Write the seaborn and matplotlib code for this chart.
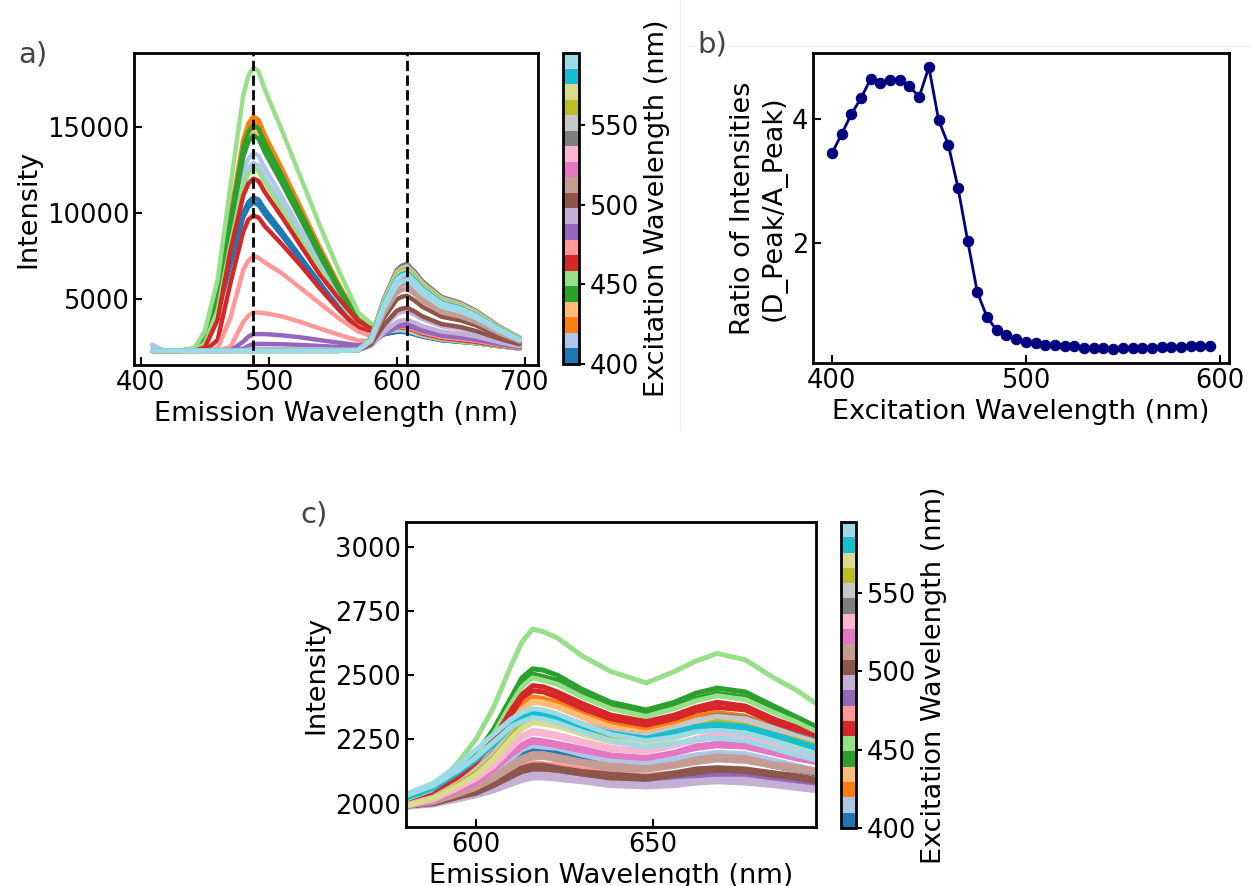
import matplotlib
matplotlib.use('Agg')
import numpy as np
import pandas as pd
import matplotlib.pyplot as plt
from matplotlib.colors import Normalize
from matplotlib.cm import ScalarMappable
from matplotlib.lines import Line2D
import seaborn as sns

#------------------------------------DATA-------------------------------------#
excitation = list(range(400, 600, 5))   # nm, one spectrum per value

# panel a : emission spectra (full range)
em_a = [409, 418, 430, 442, 450, 460, 470, 480, 484, 488, 492, 497, 510, 525,
        540, 555, 570, 580, 590, 600, 604, 608, 614, 620, 635, 650, 662, 680, 696]
int_a = [
    [1990, 1990, 1990, 2080, 2590, 4140, 6980, 9730, 10330, 10590, 10460, 9900, 8700, 7240, 5770, 4400, 3160, 2860, 2950, 3090, 3090, 3070, 2950, 2820, 2610, 2510, 2430, 2260, 2130],
    [1990, 1990, 1990, 2080, 2610, 4220, 7150, 10000, 10620, 10890, 10760, 10180, 8930, 7420, 5910, 4480, 3200, 2890, 2960, 3100, 3100, 3070, 2950, 2820, 2610, 2510, 2430, 2260, 2130],
    [2350, 2000, 1990, 2100, 2750, 4720, 8310, 11800, 12560, 12890, 12730, 12020, 10490, 8640, 6790, 5040, 3470, 3070, 3080, 3190, 3190, 3150, 3020, 2880, 2650, 2540, 2450, 2270, 2140],
    [2250, 2000, 1990, 2100, 2800, 4870, 8660, 12340, 13150, 13490, 13320, 12570, 10960, 9000, 7050, 5210, 3550, 3120, 3110, 3210, 3200, 3160, 3030, 2880, 2660, 2540, 2450, 2270, 2140],
    [1990, 1990, 1990, 2130, 2940, 5390, 9880, 14230, 15180, 15590, 15390, 14500, 12600, 10290, 7970, 5800, 3840, 3300, 3230, 3310, 3290, 3240, 3100, 2940, 2700, 2570, 2470, 2280, 2150],
    [1990, 1990, 1990, 2120, 2920, 5320, 9700, 13960, 14890, 15290, 15090, 14230, 12360, 10100, 7840, 5710, 3800, 3280, 3220, 3300, 3280, 3240, 3090, 2940, 2690, 2570, 2470, 2280, 2150],
    [1990, 1990, 1990, 2120, 2900, 5240, 9530, 13690, 14600, 14990, 14800, 13950, 12130, 9920, 7710, 5630, 3760, 3250, 3200, 3290, 3280, 3240, 3090, 2930, 2690, 2570, 2470, 2280, 2150],
    [1990, 1990, 1990, 2120, 2880, 5170, 9360, 13420, 14310, 14690, 14500, 13670, 11900, 9740, 7580, 5550, 3720, 3230, 3190, 3280, 3270, 3230, 3080, 2930, 2690, 2570, 2470, 2280, 2150],
    [1990, 1990, 1990, 2120, 2910, 5270, 9590, 13780, 14700, 15090, 14890, 14040, 12210, 9980, 7750, 5660, 3770, 3270, 3240, 3340, 3330, 3290, 3140, 2980, 2720, 2600, 2500, 2300, 2160],
    [1990, 1990, 1990, 2110, 2870, 5120, 9240, 13240, 14120, 14490, 14300, 13490, 11740, 9620, 7490, 5490, 3690, 3220, 3210, 3330, 3320, 3280, 3130, 2970, 2720, 2600, 2500, 2300, 2160],
    [1990, 1990, 1990, 2160, 3140, 6110, 11540, 16800, 17950, 18450, 18200, 17130, 14830, 12030, 9230, 6600, 4220, 3560, 3420, 3470, 3450, 3390, 3220, 3040, 2770, 2620, 2520, 2310, 2160],
    [1990, 1990, 1990, 1990, 2410, 4320, 8140, 11530, 12270, 12590, 12430, 11740, 10260, 8460, 6650, 4960, 3430, 3060, 3130, 3280, 3280, 3250, 3110, 2960, 2710, 2600, 2500, 2300, 2160],
    [1990, 1990, 1990, 1990, 2190, 3790, 7790, 10990, 11690, 11990, 11840, 11190, 9790, 8090, 6390, 4990, 3700, 3260, 3280, 3360, 3360, 3320, 3180, 2990, 2740, 2620, 2520, 2310, 2160],
    [1990, 1990, 1990, 1990, 1990, 2620, 5920, 8900, 9600, 9840, 9720, 9210, 8190, 6940, 5600, 4350, 3340, 3030, 3180, 3340, 3350, 3330, 3190, 3030, 2770, 2650, 2540, 2330, 2170],
    [1990, 1990, 1990, 1990, 1990, 2100, 3920, 6670, 7220, 7490, 7380, 7110, 6500, 5620, 4740, 3860, 3100, 2890, 3130, 3370, 3380, 3380, 3230, 3060, 2790, 2680, 2570, 2340, 2180],
    [1990, 1990, 1990, 1990, 1990, 1990, 2210, 3660, 4030, 4210, 4210, 4170, 3990, 3660, 3280, 2920, 2580, 2560, 2990, 3330, 3380, 3380, 3240, 3070, 2820, 2700, 2590, 2350, 2190],
    [1990, 1990, 1990, 1990, 1990, 1990, 1990, 2520, 2810, 2960, 2960, 2960, 2890, 2770, 2610, 2460, 2310, 2410, 2960, 3370, 3430, 3440, 3300, 3140, 2870, 2760, 2630, 2380, 2200],
    [1990, 1990, 1990, 1990, 1990, 1990, 1990, 2110, 2270, 2390, 2390, 2390, 2370, 2330, 2270, 2210, 2160, 2350, 3040, 3560, 3640, 3660, 3510, 3310, 3010, 2900, 2750, 2450, 2240],
    [1990, 1990, 1990, 1990, 1990, 1990, 1990, 2020, 2070, 2110, 2110, 2110, 2100, 2090, 2080, 2060, 2040, 2280, 3080, 3660, 3750, 3790, 3630, 3430, 3110, 2980, 2820, 2490, 2260],
    [1990, 1990, 1990, 1990, 1990, 1990, 1990, 2000, 2030, 2050, 2050, 2050, 2040, 2040, 2030, 2020, 2030, 2340, 3370, 4130, 4240, 4290, 4080, 3830, 3420, 3260, 3050, 2630, 2340],
    [1990, 1990, 1990, 1990, 1990, 1990, 1990, 1990, 1990, 1990, 1990, 1990, 1990, 1990, 1990, 1990, 2020, 2370, 3490, 4320, 4440, 4490, 4270, 3990, 3540, 3370, 3140, 2690, 2370],
    [1990, 1990, 1990, 1990, 1990, 1990, 1990, 1990, 1990, 1990, 1990, 1990, 1990, 1990, 1990, 1990, 2020, 2470, 3910, 4970, 5130, 5190, 4900, 4550, 3970, 3750, 3460, 2890, 2470],
    [1990, 1990, 1990, 1990, 1990, 1990, 1990, 1990, 1990, 1990, 1990, 1990, 1990, 1990, 1990, 1990, 2030, 2530, 4150, 5340, 5520, 5590, 5270, 4870, 4220, 3970, 3650, 3000, 2530],
    [1990, 1990, 1990, 1990, 1990, 1990, 1990, 1990, 1990, 1990, 1990, 1990, 1990, 1990, 1990, 1990, 2030, 2580, 4330, 5620, 5810, 5890, 5540, 5110, 4410, 4140, 3780, 3080, 2580],
    [1990, 1990, 1990, 1990, 1990, 1990, 1990, 1990, 1990, 1990, 1990, 1990, 1990, 1990, 1990, 1990, 2030, 2610, 4450, 5800, 6010, 6090, 5720, 5270, 4530, 4250, 3880, 3140, 2610],
    [1990, 1990, 1990, 1990, 1990, 1990, 1990, 1990, 1990, 1990, 1990, 1990, 1990, 1990, 1990, 1990, 2030, 2640, 4570, 5990, 6200, 6290, 5900, 5430, 4660, 4360, 3970, 3190, 2640],
    [1990, 1990, 1990, 1990, 1990, 1990, 1990, 1990, 1990, 1990, 1990, 1990, 1990, 1990, 1990, 1990, 2040, 2670, 4690, 6180, 6400, 6490, 6090, 5590, 4780, 4470, 4060, 3250, 2670],
    [1990, 1990, 1990, 1990, 1990, 1990, 1990, 1990, 1990, 1990, 1990, 1990, 1990, 1990, 1990, 1990, 2040, 2700, 4810, 6360, 6600, 6690, 6270, 5750, 4900, 4580, 4150, 3310, 2700],
    [1990, 1990, 1990, 1990, 1990, 1990, 1990, 1990, 1990, 1990, 1990, 1990, 1990, 1990, 1990, 1990, 2040, 2730, 4960, 6590, 6840, 6940, 6500, 5950, 5060, 4710, 4270, 3380, 2730],
    [1990, 1990, 1990, 1990, 1990, 1990, 1990, 1990, 1990, 1990, 1990, 1990, 1990, 1990, 1990, 1990, 2040, 2750, 5020, 6690, 6940, 7040, 6590, 6030, 5120, 4770, 4310, 3400, 2750],
    [1990, 1990, 1990, 1990, 1990, 1990, 1990, 1990, 1990, 1990, 1990, 1990, 1990, 1990, 1990, 1990, 2040, 2730, 4930, 6550, 6790, 6890, 6450, 5910, 5030, 4690, 4240, 3360, 2730],
    [1990, 1990, 1990, 1990, 1990, 1990, 1990, 1990, 1990, 1990, 1990, 1990, 1990, 1990, 1990, 1990, 2040, 2710, 4870, 6450, 6690, 6790, 6360, 5830, 4970, 4630, 4200, 3330, 2710],
    [1990, 1990, 1990, 1990, 1990, 1990, 1990, 1990, 1990, 1990, 1990, 1990, 1990, 1990, 1990, 1990, 2040, 2700, 4840, 6410, 6650, 6740, 6310, 5790, 4940, 4600, 4180, 3320, 2700],
    [1990, 1990, 1990, 1990, 1990, 1990, 1990, 1990, 1990, 1990, 1990, 1990, 1990, 1990, 1990, 1990, 2040, 2700, 4810, 6360, 6600, 6690, 6270, 5750, 4900, 4580, 4150, 3310, 2700],
    [1990, 1990, 1990, 1990, 1990, 1990, 1990, 1990, 1990, 1990, 1990, 1990, 1990, 1990, 1990, 1990, 2040, 2690, 4780, 6310, 6550, 6640, 6220, 5710, 4870, 4550, 4130, 3290, 2690],
    [1990, 1990, 1990, 1990, 1990, 1990, 1990, 1990, 1990, 1990, 1990, 1990, 1990, 1990, 1990, 1990, 2040, 2680, 4750, 6270, 6500, 6590, 6180, 5670, 4840, 4520, 4110, 3280, 2680],
    [1990, 1990, 1990, 1990, 1990, 1990, 1990, 1990, 1990, 1990, 1990, 1990, 1990, 1990, 1990, 1990, 2040, 2670, 4720, 6220, 6450, 6540, 6130, 5630, 4810, 4490, 4080, 3260, 2670],
    [1990, 1990, 1990, 1990, 1990, 1990, 1990, 1990, 1990, 1990, 1990, 1990, 1990, 1990, 1990, 1990, 2040, 2670, 4690, 6180, 6400, 6490, 6090, 5590, 4780, 4470, 4060, 3250, 2670],
    [1990, 1990, 1990, 1990, 1990, 1990, 1990, 1990, 1990, 1990, 1990, 1990, 1990, 1990, 1990, 1990, 2030, 2660, 4660, 6130, 6350, 6440, 6040, 5550, 4750, 4440, 4040, 3240, 2660],
    [1990, 1990, 1990, 1990, 1990, 1990, 1990, 1990, 1990, 1990, 1990, 1990, 1990, 1990, 1990, 1990, 2030, 2610, 4450, 5800, 6010, 6090, 5720, 5270, 4530, 4250, 3880, 3140, 2610],
]
donor_peak = 488
acceptor_peak = 608

# panel b : D_peak / A_peak ratio
ratio = [3.45, 3.76, 4.08, 4.34, 4.65, 4.58, 4.64, 4.63, 4.53, 4.36,
         4.84, 3.99, 3.59, 2.90, 2.04, 1.21, 0.81, 0.60, 0.53, 0.46,
         0.41, 0.39, 0.365, 0.355, 0.34, 0.34, 0.32, 0.31, 0.31, 0.30,
         0.31, 0.32, 0.32, 0.32, 0.33, 0.33, 0.33, 0.34, 0.34, 0.34]

# panel c : acceptor region of the second sample
em_c = [580, 588, 595, 600, 605, 610, 613, 616, 619, 623, 630, 638, 648, 656,
        662, 668, 676, 684, 690, 696]
int_c = [
    [1990, 2005, 2040, 2070, 2110, 2160, 2190, 2205, 2200, 2195, 2170, 2150, 2140, 2150, 2165, 2175, 2170, 2145, 2130, 2115],
    [1990, 2010, 2045, 2070, 2115, 2170, 2200, 2215, 2210, 2205, 2180, 2160, 2145, 2160, 2175, 2185, 2175, 2155, 2135, 2120],
    [1990, 2010, 2045, 2075, 2120, 2175, 2210, 2225, 2220, 2215, 2190, 2165, 2155, 2165, 2180, 2190, 2185, 2160, 2145, 2125],
    [1990, 2010, 2050, 2080, 2125, 2185, 2220, 2235, 2230, 2225, 2200, 2175, 2160, 2175, 2190, 2200, 2195, 2170, 2150, 2130],
    [1995, 2030, 2095, 2150, 2225, 2330, 2385, 2415, 2410, 2395, 2350, 2310, 2285, 2310, 2340, 2355, 2340, 2300, 2270, 2235],
    [1995, 2030, 2090, 2145, 2225, 2325, 2380, 2410, 2405, 2390, 2345, 2310, 2285, 2310, 2335, 2350, 2340, 2295, 2265, 2230],
    [1995, 2025, 2090, 2145, 2220, 2315, 2370, 2400, 2395, 2380, 2340, 2300, 2275, 2300, 2325, 2340, 2330, 2290, 2260, 2225],
    [1995, 2025, 2090, 2140, 2215, 2315, 2365, 2395, 2390, 2375, 2335, 2295, 2270, 2295, 2320, 2340, 2325, 2285, 2255, 2225],
    [1995, 2040, 2120, 2190, 2290, 2415, 2490, 2525, 2520, 2500, 2445, 2395, 2365, 2395, 2430, 2450, 2435, 2380, 2340, 2300],
    [1995, 2035, 2115, 2185, 2275, 2400, 2470, 2505, 2495, 2480, 2425, 2380, 2350, 2380, 2410, 2430, 2415, 2365, 2330, 2285],
    [2000, 2055, 2160, 2250, 2375, 2540, 2630, 2680, 2670, 2645, 2575, 2515, 2470, 2515, 2555, 2585, 2560, 2490, 2445, 2390],
    [1995, 2035, 2110, 2175, 2270, 2390, 2455, 2490, 2480, 2465, 2415, 2370, 2340, 2370, 2400, 2420, 2405, 2355, 2320, 2280],
    [1995, 2035, 2105, 2165, 2250, 2365, 2425, 2460, 2455, 2435, 2390, 2345, 2320, 2345, 2375, 2395, 2380, 2330, 2300, 2260],
    [1995, 2030, 2100, 2160, 2240, 2350, 2410, 2440, 2435, 2415, 2370, 2330, 2305, 2330, 2360, 2375, 2365, 2315, 2285, 2250],
    [1990, 2005, 2030, 2050, 2085, 2125, 2150, 2160, 2155, 2150, 2135, 2120, 2110, 2120, 2130, 2135, 2130, 2115, 2100, 2085],
    [1990, 2000, 2025, 2045, 2075, 2115, 2135, 2145, 2145, 2135, 2120, 2105, 2095, 2105, 2115, 2125, 2120, 2100, 2090, 2080],
    [1990, 2000, 2020, 2040, 2065, 2095, 2115, 2125, 2125, 2120, 2105, 2090, 2085, 2090, 2100, 2105, 2100, 2085, 2075, 2065],
    [1990, 2000, 2025, 2040, 2070, 2105, 2125, 2135, 2135, 2130, 2115, 2100, 2090, 2100, 2110, 2115, 2110, 2095, 2085, 2070],
    [1985, 1995, 2015, 2030, 2050, 2075, 2090, 2100, 2100, 2095, 2085, 2070, 2065, 2070, 2080, 2085, 2080, 2070, 2060, 2050],
    [1990, 2000, 2020, 2035, 2060, 2090, 2105, 2115, 2115, 2110, 2095, 2085, 2075, 2085, 2090, 2095, 2095, 2080, 2070, 2060],
    [1990, 2000, 2025, 2040, 2070, 2105, 2125, 2135, 2135, 2130, 2115, 2100, 2095, 2110, 2120, 2130, 2125, 2110, 2100, 2085],
    [1990, 2000, 2025, 2050, 2075, 2115, 2140, 2150, 2150, 2140, 2125, 2115, 2105, 2120, 2135, 2140, 2135, 2120, 2110, 2095],
    [1990, 2005, 2035, 2060, 2095, 2140, 2165, 2180, 2180, 2170, 2155, 2135, 2130, 2145, 2160, 2170, 2165, 2145, 2130, 2120],
    [1990, 2005, 2040, 2065, 2105, 2155, 2180, 2195, 2195, 2185, 2165, 2150, 2140, 2155, 2175, 2185, 2180, 2155, 2145, 2130],
    [1990, 2010, 2050, 2080, 2130, 2190, 2220, 2240, 2235, 2225, 2205, 2185, 2175, 2195, 2215, 2225, 2220, 2195, 2175, 2160],
    [1990, 2010, 2050, 2085, 2135, 2195, 2230, 2250, 2245, 2235, 2215, 2190, 2180, 2200, 2225, 2235, 2230, 2200, 2185, 2165],
    [1990, 2015, 2060, 2095, 2145, 2215, 2255, 2275, 2270, 2260, 2235, 2210, 2200, 2225, 2245, 2260, 2250, 2225, 2205, 2180],
    [1990, 2015, 2060, 2100, 2155, 2225, 2265, 2285, 2280, 2270, 2245, 2220, 2205, 2230, 2255, 2270, 2260, 2230, 2210, 2190],
    [1990, 2020, 2080, 2125, 2190, 2280, 2330, 2355, 2350, 2335, 2305, 2275, 2260, 2290, 2320, 2335, 2325, 2290, 2265, 2235],
    [1995, 2025, 2080, 2130, 2200, 2290, 2340, 2365, 2360, 2345, 2310, 2280, 2265, 2295, 2325, 2345, 2335, 2295, 2270, 2245],
    [1990, 2020, 2075, 2125, 2190, 2275, 2325, 2350, 2345, 2330, 2300, 2270, 2255, 2285, 2315, 2330, 2320, 2285, 2260, 2235],
    [1995, 2025, 2080, 2130, 2195, 2285, 2335, 2360, 2355, 2340, 2310, 2280, 2265, 2295, 2325, 2340, 2330, 2295, 2265, 2240],
    [1990, 2020, 2070, 2115, 2180, 2260, 2305, 2330, 2325, 2315, 2280, 2255, 2240, 2270, 2295, 2315, 2300, 2270, 2245, 2220],
    [1990, 2020, 2075, 2120, 2180, 2265, 2310, 2335, 2330, 2320, 2285, 2260, 2245, 2270, 2300, 2320, 2305, 2270, 2250, 2225],
    [1990, 2020, 2070, 2110, 2170, 2250, 2290, 2315, 2310, 2300, 2270, 2240, 2230, 2255, 2280, 2300, 2290, 2255, 2235, 2210],
    [1990, 2020, 2070, 2110, 2175, 2255, 2295, 2320, 2315, 2305, 2275, 2245, 2235, 2260, 2285, 2305, 2295, 2260, 2235, 2215],
    [2020, 2060, 2120, 2170, 2230, 2300, 2330, 2350, 2345, 2335, 2300, 2270, 2250, 2275, 2295, 2305, 2295, 2265, 2240, 2215],
    [2025, 2065, 2125, 2175, 2235, 2305, 2335, 2355, 2350, 2340, 2305, 2275, 2255, 2280, 2300, 2310, 2300, 2270, 2245, 2220],
    [2035, 2080, 2150, 2210, 2270, 2330, 2355, 2370, 2365, 2350, 2310, 2270, 2245, 2260, 2280, 2285, 2275, 2245, 2215, 2195],
    [2030, 2070, 2130, 2180, 2240, 2300, 2320, 2335, 2330, 2315, 2280, 2245, 2220, 2235, 2250, 2255, 2245, 2215, 2190, 2170],
]

cbar_ticks = [400, 450, 500, 550]

#----------------------------------STYLE--------------------------------------#
sns.set_theme(style='white')
plt.rcParams.update({
    'font.family': ['DejaVu Sans'],
    'text.color': 'black',
    'axes.labelcolor': 'black',
    'axes.edgecolor': 'black',
    'axes.linewidth': 2,
    'axes.labelsize': 19.5,
    'xtick.color': 'black',
    'ytick.color': 'black',
    'xtick.bottom': True,
    'ytick.left': True,
    'xtick.direction': 'in',
    'ytick.direction': 'in',
    'xtick.major.size': 6,
    'ytick.major.size': 6,
    'xtick.major.width': 1.5,
    'ytick.major.width': 1.5,
    'xtick.labelsize': 18.5,
    'ytick.labelsize': 18.5,
})


def long_table(em, spectra):
    rows = []
    for ex, ys in zip(excitation, spectra):
        for x, y in zip(em, ys):
            rows.append((ex, x, y))
    return pd.DataFrame(rows, columns=['ex', 'em', 'I'])


cmap = plt.get_cmap('tab20')
norm = Normalize(vmin=min(excitation), vmax=max(excitation))

W, H = 1252, 886
fig = plt.figure(figsize=(W / 100, H / 100), dpi=100)


def box(x0, y0, x1, y1):
    # pixel box (top-left origin) -> figure fraction
    return [x0 / W, 1 - y1 / H, (x1 - x0) / W, (y1 - y0) / H]


ax_a = fig.add_axes(box(134, 53, 538, 365))
cax_a = fig.add_axes(box(563, 53, 579, 364))
ax_b = fig.add_axes(box(813, 53, 1229, 363))
ax_c = fig.add_axes(box(406, 522, 816, 827))
cax_c = fig.add_axes(box(841, 522, 856, 828))

#---------------------------------PANEL A-------------------------------------#
sns.lineplot(data=long_table(em_a, int_a), x='em', y='I', hue='ex',
             palette=cmap, hue_norm=norm, lw=3.2, legend=False,
             estimator=None, sort=False, ax=ax_a)
ax_a.axvline(donor_peak, color='black', ls='--', lw=2)
ax_a.axvline(acceptor_peak, color='black', ls='--', lw=2)
ax_a.set_xticks([400, 500, 600, 700])
ax_a.set_yticks([5000, 10000, 15000])
ax_a.set_xlabel('Emission Wavelength (nm)')
ax_a.set_ylabel('Intensity')

#---------------------------------PANEL B-------------------------------------#
sns.lineplot(x=excitation, y=ratio, color='navy', lw=2, marker='o',
             markersize=7.5, markeredgecolor='navy', ax=ax_b)
ax_b.set_xticks([400, 500, 600])
ax_b.set_yticks([2, 4])
ax_b.set_xlabel('Excitation Wavelength (nm)')
ax_b.set_ylabel('Ratio of Intensities\n(D_Peak/A_Peak)')

#---------------------------------PANEL C-------------------------------------#
sns.lineplot(data=long_table(em_c, int_c), x='em', y='I', hue='ex',
             palette=cmap, hue_norm=norm, lw=3.6, legend=False,
             estimator=None, sort=False, ax=ax_c)
ax_c.set_xlim(580.3, 695.9)
ax_c.set_ylim(1909, 3097)
ax_c.set_xticks([600, 650])
ax_c.set_yticks([2000, 2250, 2500, 2750, 3000])
ax_c.set_xlabel('Emission Wavelength (nm)')
ax_c.set_ylabel('Intensity')

#--------------------------------COLORBARS------------------------------------#
for cax in (cax_a, cax_c):
    cb = fig.colorbar(ScalarMappable(norm=norm, cmap=cmap), cax=cax,
                      ticks=cbar_ticks)
    cb.outline.set_linewidth(2)
    cb.outline.set_edgecolor('black')
    cax.tick_params(direction='out', length=4, width=1.5, labelsize=18.5,
                    right=True, left=False)
    cb.set_label('Excitation Wavelength (nm)', fontsize=19.5)

#-------------------------------DECORATION------------------------------------#
fig.add_artist(Line2D([680 / W, 680 / W], [1, 1 - 430 / H], color='#f0f0f0', lw=1))
fig.add_artist(Line2D([690 / W, 1], [1 - 46 / H, 1 - 46 / H], color='#f0f0f0', lw=1))

lab = dict(fontsize=21, color='#444444', va='top', ha='left')
fig.text(18 / W, 1 - 40 / H, 'a)', **lab)
fig.text(697 / W, 1 - 30 / H, 'b)', **lab)
fig.text(300 / W, 1 - 500 / H, 'c)', **lab)

fig.savefig('out.png', dpi=100)
